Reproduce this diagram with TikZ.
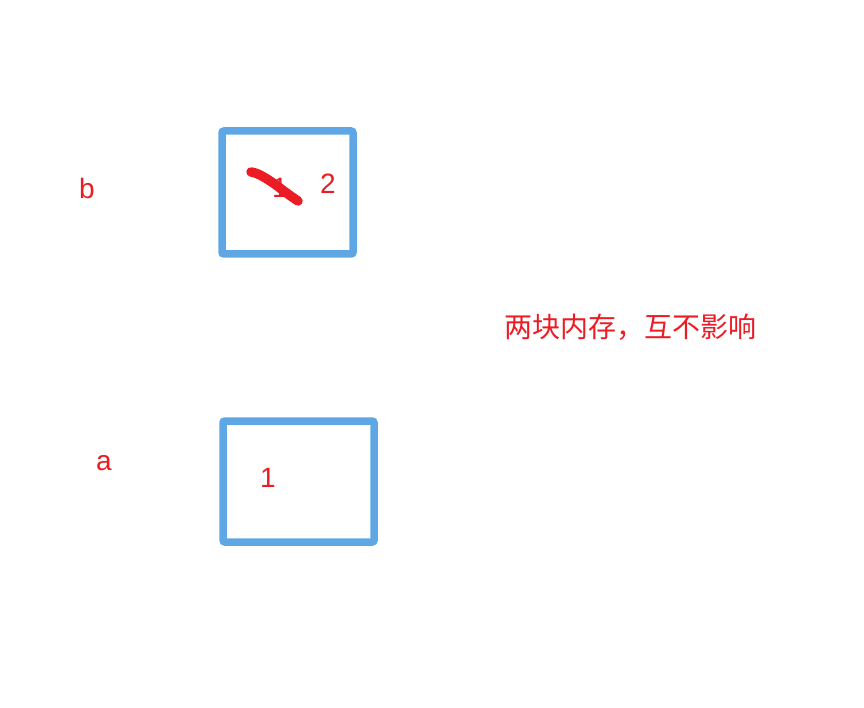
\documentclass[tikz,border=0pt]{standalone}
\usepackage{fontspec}
\newfontfamily\cjk{Noto Sans CJK SC}
\newfontfamily\lat{Liberation Sans}
\usepackage{tikz}
\usetikzlibrary{positioning}
\definecolor{memblue}{RGB}{94,166,228}
\definecolor{inkred}{RGB}{236,28,36}

\begin{document}
\begin{tikzpicture}[
    x=1pt, y=-1pt,
    membox/.style={draw=memblue, line width=7.5pt, rounded corners=2pt,
                   fill=white, inner sep=0pt},
    varlbl/.style={text=inkred, font=\lat\fontsize{28}{30}\selectfont, inner sep=0pt},
    note/.style={text=inkred, font=\cjk\fontsize{28}{31}\selectfont, inner sep=0pt},
    scribble/.style={draw=inkred, line width=9.5pt, line cap=round, line join=round}
]
\useasboundingbox[fill=white] (0,0) rectangle (864,708);

% variable b and its memory block
\node[varlbl] (b) at (87,188) {b};
\node[membox, minimum width=131pt, minimum height=123pt] (bbox) at (287.5,192.5) {};
\node[varlbl] (bold) at (280,188) {1};
\node[varlbl] (bnew) at (328,184) {2};
\draw[scribble] (251,172) .. controls (258,173) and (266,178) .. (276,185)
                 .. controls (285,192) and (292,197) .. (298,201);

% note
\node[note] (msg) at (630,327) {两块内存，互不影响};

% variable a and its memory block
\node[varlbl] (a) at (104,463) {a};
\node[membox, minimum width=151pt, minimum height=121pt] (abox) at (298.5,481.5) {};
\node[varlbl] (aval) at (268,478) {1};
\end{tikzpicture}
\end{document}
